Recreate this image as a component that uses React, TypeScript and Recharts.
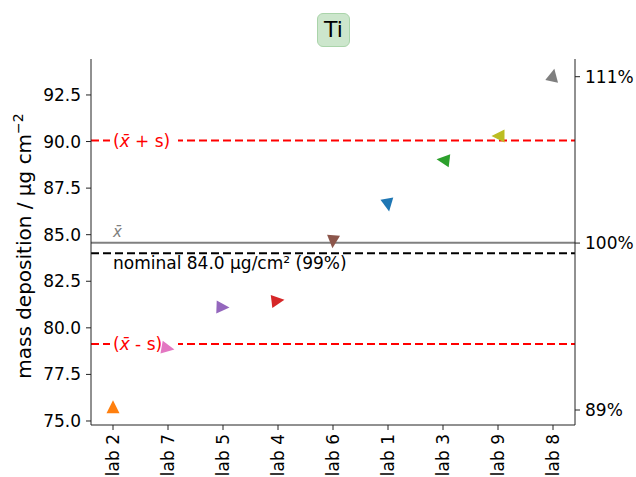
import React from 'react'
import {
  ScatterChart,
  Scatter,
  XAxis,
  YAxis,
  ReferenceLine,
  ReferenceArea,
} from 'recharts'

// values
const labs = ['lab 2', 'lab 7', 'lab 5', 'lab 4', 'lab 6', 'lab 1', 'lab 3', 'lab 9', 'lab 8']
const massValues = [75.77, 78.9, 81.1, 81.46, 84.62, 86.59, 89.01, 90.3, 93.57]
const markerColors = ['#ff7f0e', '#e377c2', '#9467bd', '#d62728', '#8c564b', '#1f77b4', '#2ca02c', '#bcbd22', '#7f7f7f']
const markerAngles = [0, 100, 92, 83, 185, 170, -83, -90, 12]

const leftTicks = [75, 77.5, 80, 82.5, 85, 87.5, 90, 92.5]
const rightTicks = [75.59, 84.55, 93.48]
const rightTickLabels = ['89%', '100%', '111%']

const meanValue = 84.57
const upperValue = 90.05
const lowerValue = 79.13
const nominalValue = 84.0

const FONT = 'DejaVu Sans'

const chartData = labs.map((lab, i) => ({
  x: i,
  y: massValues[i],
  color: markerColors[i],
  angle: markerAngles[i],
}))

function Triangle(props: any) {
  const { cx, cy, payload } = props
  const r = 6.5
  return (
    <path
      d={`M0,${-r} L${-r},${r} L${r},${r} Z`}
      transform={`translate(${cx},${cy}) rotate(${payload.angle})`}
      fill={payload.color}
    />
  )
}

function XTick(props: any) {
  const { x, y, payload } = props
  return (
    <text
      x={x}
      y={y}
      transform={`rotate(-90, ${x}, ${y})`}
      textAnchor="end"
      dominantBaseline="central"
      fontFamily={FONT}
      fontSize={17}
      fill="#000"
    >
      {labs[payload.value]}
    </text>
  )
}

function BandLabel(sign: string) {
  return (props: any) => {
    const { viewBox } = props
    const x = viewBox.x + 22
    const y = viewBox.y
    return (
      <g>
        <rect x={x - 3} y={y - 12} width={68} height={24} fill="#fff" />
        <text x={x} y={y} dominantBaseline="central" fontFamily={FONT} fontSize={17} fill="#ff0000">
          (<tspan fontStyle="italic">x&#772;</tspan> {sign} s)
        </text>
      </g>
    )
  }
}

function MeanLabel(props: any) {
  const { viewBox } = props
  return (
    <text x={viewBox.x + 22} y={viewBox.y - 6} fontFamily={FONT} fontSize={15} fontStyle="italic" fill="#808080">
      x&#772;
    </text>
  )
}

function NominalLabel(props: any) {
  const { viewBox } = props
  return (
    <text x={viewBox.x + 22} y={viewBox.y + 16} fontFamily={FONT} fontSize={17} fill="#000">
      nominal 84.0 µg/cm² (99%)
    </text>
  )
}

export default function App() {
  return (
    <div
      style={{
        position: 'absolute',
        left: 0,
        top: 0,
        width: 636,
        height: 477,
        overflow: 'hidden',
        background: '#fff',
        fontFamily: FONT,
      }}
    >
      <div
        style={{
          position: 'absolute',
          left: 317,
          top: 13,
          width: 33,
          height: 34,
          boxSizing: 'border-box',
          background: '#cce6cc',
          border: '1px solid #aad4aa',
          borderRadius: 6,
          fontSize: 22,
          lineHeight: '32px',
          textAlign: 'center',
          color: '#000',
        }}
      >
        Ti
      </div>
      <div
        style={{
          position: 'absolute',
          left: 23,
          top: 246,
          transform: 'translate(-50%, -50%) rotate(-90deg)',
          whiteSpace: 'nowrap',
          fontSize: 20,
          color: '#000',
        }}
      >
        mass deposition / µg cm<sup style={{ fontSize: 14 }}>−2</sup>
      </div>
      <ScatterChart width={636} height={477} margin={{ top: 59, right: 0, bottom: 0, left: 0 }}>
        <XAxis
          type="number"
          dataKey="x"
          domain={[-0.4, 8.4]}
          ticks={[0, 1, 2, 3, 4, 5, 6, 7, 8]}
          tick={<XTick />}
          tickSize={5}
          tickMargin={4}
          height={52}
          stroke="#222"
          interval={0}
        />
        <YAxis
          yAxisId="left"
          type="number"
          dataKey="y"
          domain={[74.785, 94.43]}
          ticks={leftTicks}
          tickFormatter={(v: number) => v.toFixed(1)}
          width={91}
          tickSize={5}
          tickMargin={5}
          stroke="#222"
          tick={{ fill: '#000', fontSize: 17, fontFamily: FONT }}
          allowDataOverflow
        />
        <YAxis
          yAxisId="right"
          orientation="right"
          type="number"
          domain={[74.785, 94.43]}
          ticks={rightTicks}
          tickFormatter={(v: number) => rightTickLabels[rightTicks.indexOf(v)]}
          width={61}
          tickSize={5}
          tickMargin={5}
          stroke="#222"
          tick={{ fill: '#000', fontSize: 17, fontFamily: FONT }}
          allowDataOverflow
        />
        <ReferenceArea yAxisId="left" fill="none" stroke="#222" strokeWidth={1} />
        <ReferenceLine yAxisId="left" y={upperValue} stroke="#ff0000" strokeWidth={2} strokeDasharray="8 4" label={BandLabel('+')} />
        <ReferenceLine yAxisId="left" y={lowerValue} stroke="#ff0000" strokeWidth={2} strokeDasharray="8 4" label={BandLabel('-')} />
        <ReferenceLine yAxisId="left" y={meanValue} stroke="#808080" strokeWidth={2} label={MeanLabel} />
        <ReferenceLine yAxisId="left" y={nominalValue} stroke="#000" strokeWidth={2} strokeDasharray="8 4" label={NominalLabel} />
        <Scatter yAxisId="left" data={chartData} shape={Triangle} isAnimationActive={false} />
      </ScatterChart>
    </div>
  )
}
